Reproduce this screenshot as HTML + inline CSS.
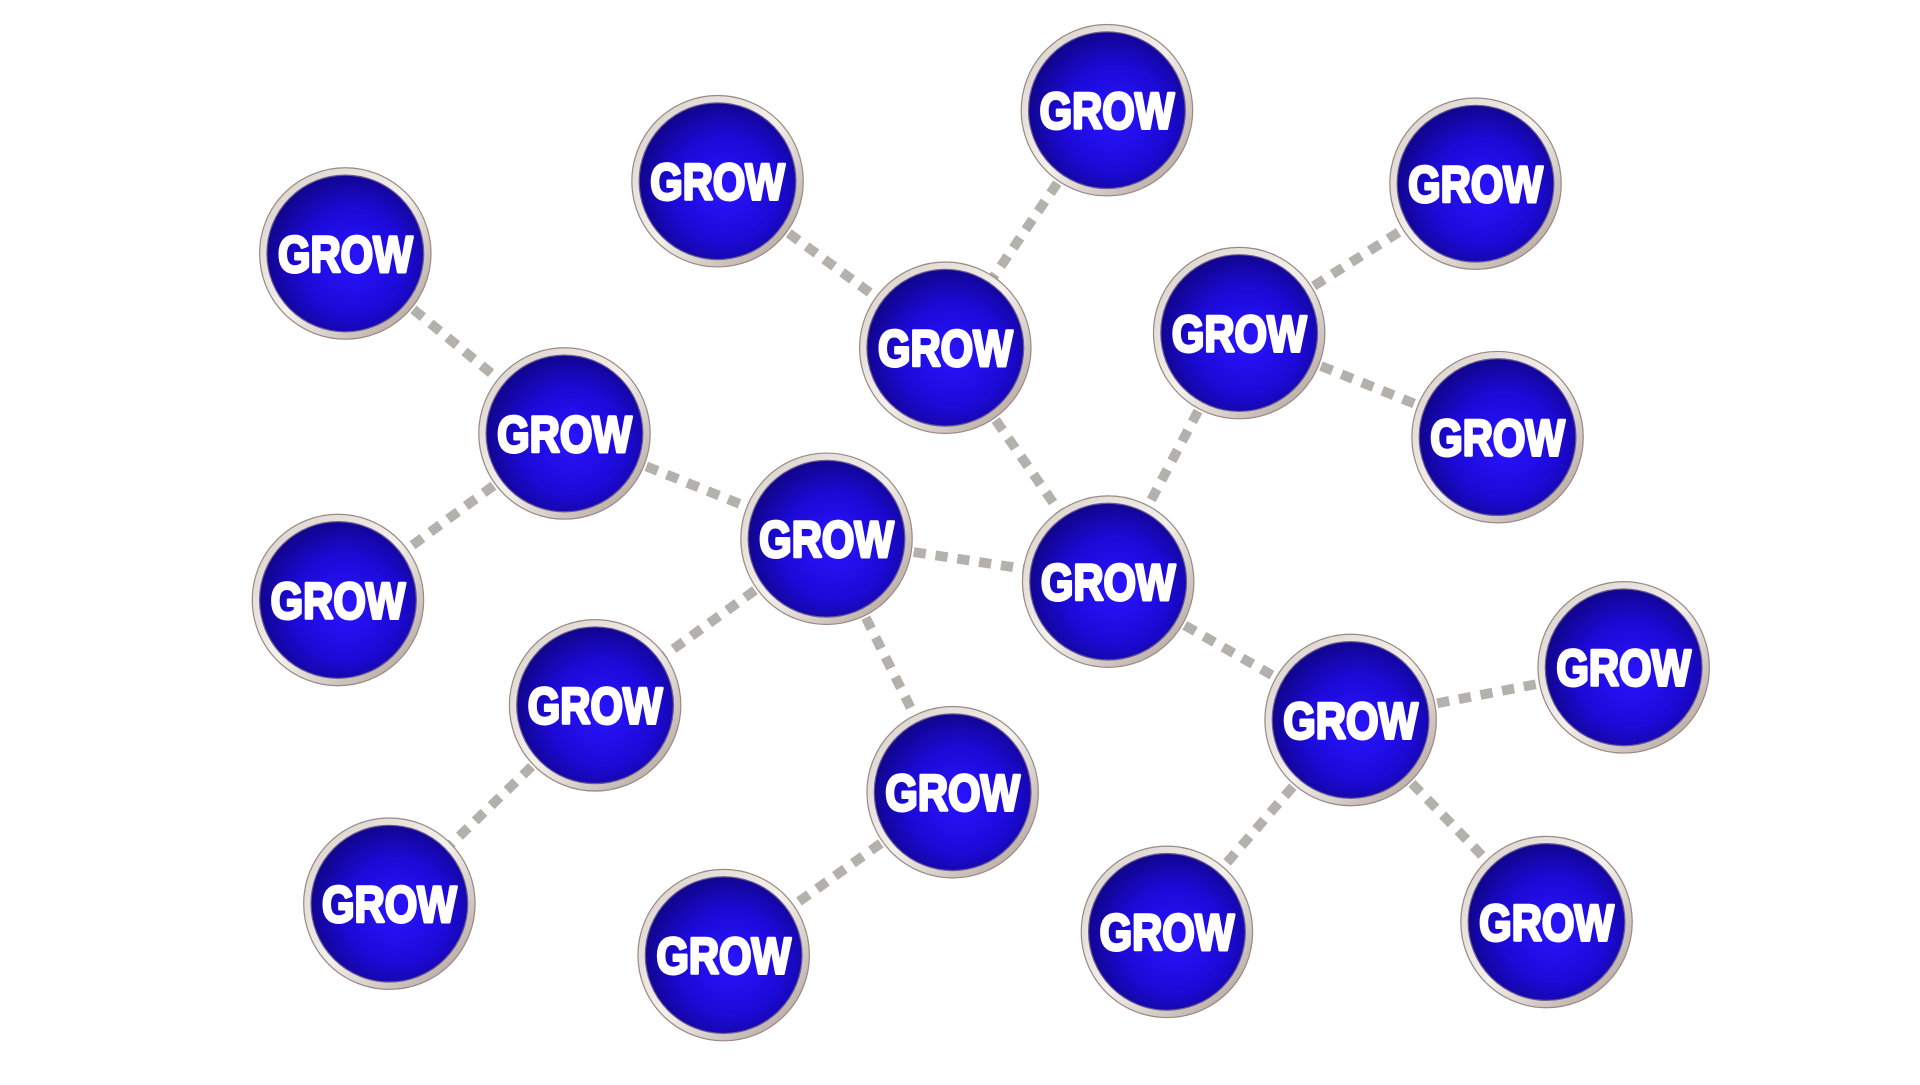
<!DOCTYPE html>
<html><head><meta charset="utf-8"><style>html,body{margin:0;padding:0;background:#fff;overflow:hidden}</style></head>
<body>
<svg width="1920" height="1080" viewBox="0 0 1568 882" preserveAspectRatio="none" xmlns="http://www.w3.org/2000/svg">
<defs>
<radialGradient id="b" cx="0.55" cy="0.55" r="0.6">
<stop offset="0" stop-color="#2a14ff"/><stop offset="0.55" stop-color="#1c0ad8"/><stop offset="1" stop-color="#0e0480"/>
</radialGradient>
<linearGradient id="r" x1="0" y1="0" x2="1" y2="1">
<stop offset="0" stop-color="#d8cfc8"/><stop offset="0.5" stop-color="#f4f0ec"/><stop offset="1" stop-color="#a89890"/>
</linearGradient>
<g id="n">
<circle r="70" fill="url(#r)" stroke="#9a8a84" stroke-width="1"/>
<circle r="64" fill="url(#b)" stroke="#6a5a90" stroke-width="1"/>
<text y="15" text-anchor="middle" font-family="Liberation Sans, sans-serif" font-weight="bold" font-size="42" textLength="110" lengthAdjust="spacingAndGlyphs" fill="#fff" stroke="#fff" stroke-width="2.5" stroke-linejoin="round">GROW</text>
</g>
</defs>
<rect width="1568" height="882" fill="#fff"/>
<g stroke="#b4b0ac" stroke-width="8" stroke-dasharray="10 8" fill="none">
<line x1="282" y1="207" x2="461" y2="354"/>
<line x1="461" y1="354" x2="276" y2="490"/>
<line x1="461" y1="354" x2="675" y2="440"/>
<line x1="586" y1="148" x2="772" y2="284"/>
<line x1="904" y1="90" x2="772" y2="284"/>
<line x1="772" y1="284" x2="905" y2="475"/>
<line x1="1012" y1="272" x2="1205" y2="150"/>
<line x1="1012" y1="272" x2="1223" y2="357"/>
<line x1="1012" y1="272" x2="905" y2="475"/>
<line x1="675" y1="440" x2="905" y2="475"/>
<line x1="675" y1="440" x2="486" y2="576"/>
<line x1="675" y1="440" x2="778" y2="647"/>
<line x1="486" y1="576" x2="318" y2="738"/>
<line x1="778" y1="647" x2="591" y2="780"/>
<line x1="905" y1="475" x2="1103" y2="588"/>
<line x1="1103" y1="588" x2="1326" y2="545"/>
<line x1="1103" y1="588" x2="953" y2="761"/>
<line x1="1103" y1="588" x2="1263" y2="753"/>
</g>
<use href="#n" x="282" y="207"/>
<use href="#n" x="586" y="148"/>
<use href="#n" x="904" y="90"/>
<use href="#n" x="1205" y="150"/>
<use href="#n" x="772" y="284"/>
<use href="#n" x="1012" y="272"/>
<use href="#n" x="461" y="354"/>
<use href="#n" x="1223" y="357"/>
<use href="#n" x="276" y="490"/>
<use href="#n" x="675" y="440"/>
<use href="#n" x="905" y="475"/>
<use href="#n" x="486" y="576"/>
<use href="#n" x="1103" y="588"/>
<use href="#n" x="1326" y="545"/>
<use href="#n" x="778" y="647"/>
<use href="#n" x="318" y="738"/>
<use href="#n" x="591" y="780"/>
<use href="#n" x="953" y="761"/>
<use href="#n" x="1263" y="753"/>
</svg>
</body></html>
